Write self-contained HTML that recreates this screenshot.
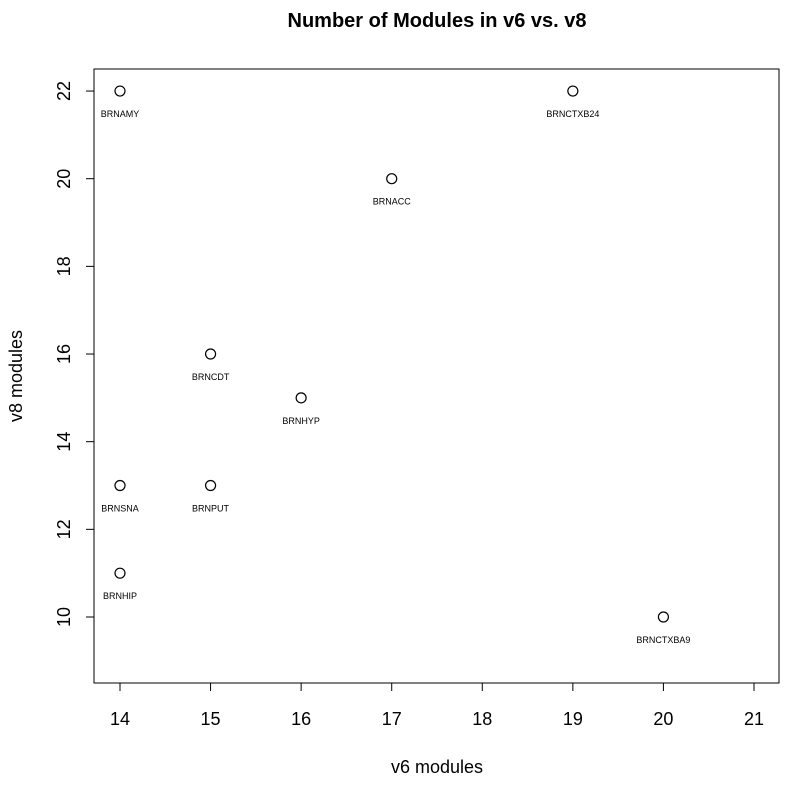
<!DOCTYPE html>
<html><head><meta charset="utf-8"><style>
body{margin:0;background:#fff;}
svg{display:block;font-family:"Liberation Sans",Arial,sans-serif;}
</style></head><body>
<svg id="chart" width="796" height="787">
<text x="437" y="27" text-anchor="middle" font-size="20" font-weight="bold">Number of Modules in v6 vs. v8</text>
<rect x="94" y="69" width="685" height="614" fill="none" stroke="#000" stroke-width="1"/>
<g id="xaxis"></g>
<g id="yaxis"></g>
<g id="points"></g>
<text x="437" y="773" text-anchor="middle" font-size="18">v6 modules</text>
<text transform="translate(22,376) rotate(-90)" text-anchor="middle" font-size="18">v8 modules</text>
</svg>
<script>
const xValues=[14,19,17,15,16,14,15,14,20];
const yValues=[22,22,20,16,15,13,13,11,10];
const pointLabels=["BRNAMY","BRNCTXB24","BRNACC","BRNCDT","BRNHYP","BRNSNA","BRNPUT","BRNHIP","BRNCTXBA9"];
const xTicks=[14,15,16,17,18,19,20,21];
const yTicks=[10,12,14,16,18,20,22];
const NS="http://www.w3.org/2000/svg";
function sx(v){return 120+(v-14)*90.57;}
function sy(v){return 617-(v-10)*43.83;}
function mk(t,a,p){const e=document.createElementNS(NS,t);for(const k in a)e.setAttribute(k,a[k]);p.appendChild(e);return e;}
const xa=document.getElementById('xaxis'),ya=document.getElementById('yaxis'),pts=document.getElementById('points');
mk('line',{x1:sx(14),x2:sx(21),y1:683,y2:683,stroke:'#000'},xa);
xTicks.forEach(v=>{
 const l=mk('line',{x1:sx(v),x2:sx(v),y1:683,y2:691,stroke:'#000'},xa);
 
 
 const t=mk('text',{x:sx(v),y:725,'text-anchor':'middle','font-size':18},xa);
 t.textContent=v;
 
 
});
mk('line',{x1:94,x2:94,y1:sy(10),y2:sy(22),stroke:'#000'},ya);
yTicks.forEach(v=>{
 const l=mk('line',{x1:86,x2:94,y1:sy(v),y2:sy(v),stroke:'#000'},ya);
 
 
 const t=mk('text',{transform:`translate(70,${sy(v)}) rotate(-90)`,'text-anchor':'middle','font-size':18},ya);
 t.textContent=v;
 
 
});
xValues.forEach((xv,i)=>{
 const c=mk('circle',{cx:sx(xv),cy:sy(yValues[i]),r:5,fill:'none',stroke:'#000','stroke-width':1.2},pts);
 
 
 const t=mk('text',{x:sx(xv),y:sy(yValues[i])+26,'text-anchor':'middle','font-size':9},pts);
 t.textContent=pointLabels[i];
 
 
});
</script>
</body></html>
